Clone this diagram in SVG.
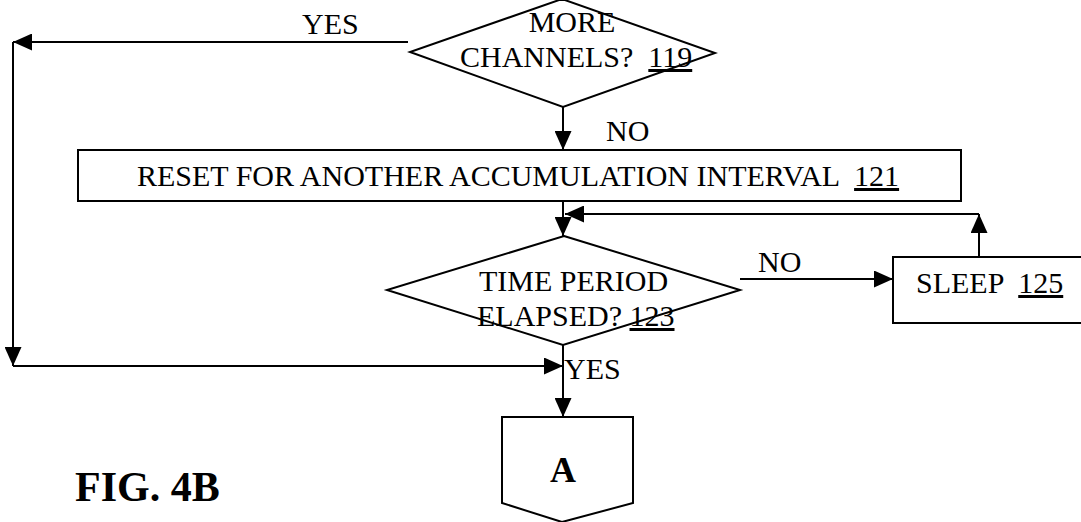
<svg xmlns="http://www.w3.org/2000/svg" width="1081" height="522" viewBox="0 0 1081 522">
<defs>
<style>
.s{fill:#fff;stroke:#000;stroke-width:2}
.c{fill:none;stroke:#000;stroke-width:2;marker-end:url(#ah)}
.t{font-family:"Liberation Serif","Times New Roman",serif;font-size:30px;fill:#000;white-space:pre}
.m{text-anchor:middle}
.b{font-weight:bold}
.u{text-decoration:underline}
</style>
<marker id="ah" markerUnits="userSpaceOnUse" markerWidth="19" markerHeight="17" refX="19" refY="8.5" orient="auto">
<path d="M0,0 L19,8.5 L0,17 Z" fill="#000"/>
</marker>
</defs>
<rect width="1081" height="522" fill="#fff"/>
<g id="connectors">
<path class="c" d="M408,42 L13,42"/>
<path class="c" d="M13,42 L13,366"/>
<path class="c" d="M13,366 L563,366"/>
<path class="c" d="M563,107 L563,150"/>
<path class="c" d="M563,201 L563,236"/>
<path class="c" d="M740,279 L893,279"/>
<path class="c" d="M979,257 L979,214"/>
<path class="c" d="M979,214 L565,214"/>
<path class="c" d="M563,345 L563,417"/>
</g>
<g id="n119">
<polygon class="s" points="562,-1 715,53 563,107 410,52"/>
<text class="t m" x="572" y="32">MORE</text>
<text class="t" x="460" y="67" xml:space="preserve">CHANNELS?  <tspan class="u">119</tspan></text>
</g>
<g id="n121">
<rect class="s" x="78" y="150" width="883" height="51"/>
<text class="t" x="137" y="186" xml:space="preserve">RESET FOR ANOTHER ACCUMULATION INTERVAL  <tspan class="u">121</tspan></text>
</g>
<g id="n123">
<polygon class="s" points="564,236 740,290 563,345 387,290"/>
<text class="t" x="479" y="291">TIME PERIOD</text>
<text class="t" x="477" y="326">ELAPSED? <tspan class="u">123</tspan></text>
</g>
<g id="n125">
<rect class="s" x="893" y="257" width="200" height="66"/>
<text class="t" x="916" y="293" xml:space="preserve">SLEEP  <tspan class="u">125</tspan></text>
</g>
<g id="nA">
<polygon class="s" points="502,417 633,417 633,503 562,522 502,503"/>
<text class="t m b" x="563" y="482" style="font-size:36px">A</text>
</g>
<g id="labels">
<text class="t" x="302" y="34">YES</text>
<text class="t" x="606" y="141">NO</text>
<text class="t" x="758" y="272">NO</text>
<text class="t" x="564" y="379">YES</text>
<text class="t b" x="75" y="501" style="font-size:42px">FIG. 4B</text>
</g>
</svg>
